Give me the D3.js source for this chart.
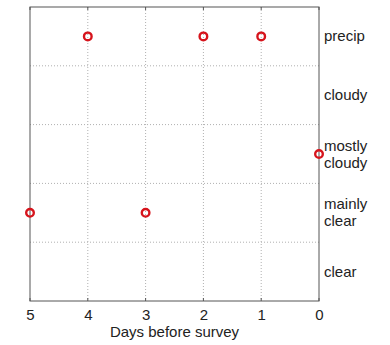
<!DOCTYPE html>
<html>
<head>
<meta charset="utf-8">
<script src="https://cdn.jsdelivr.net/npm/d3@7"></script>
<style>
  body { margin: 0; background: #fff; }
  svg { display: block; font-family: "Liberation Sans", Arial, sans-serif; }
  .grid line { stroke: #b0b0b0; stroke-dasharray: 1 2; stroke-width: 1; }
  .x-axis text, .cat-label { fill: #222; font-size: 15px; }
</style>
</head>
<body>
<svg id="chart"></svg>
<script>
// weather categories, bottom to top
const categories = ['clear', 'mainly clear', 'mostly cloudy', 'cloudy', 'precip']
const catLines = [['clear'], ['mainly', 'clear'], ['mostly', 'cloudy'], ['cloudy'], ['precip']]
const days = [5, 4, 3, 2, 1, 0]
const obsDays = [4, 2, 1, 0, 5, 3]
const obsWeather = ['precip', 'precip', 'precip', 'mostly cloudy', 'mainly clear', 'mainly clear']

const width = 390, height = 345
const MARGIN = { top: 7, right: 71, bottom: 44, left: 30 }
const boundedWidth = width - MARGIN.left - MARGIN.right
const boundedHeight = height - MARGIN.top - MARGIN.bottom

const $svg = d3.select('#chart').attr('width', width).attr('height', height)
const $g = $svg.append('g').attr('transform', `translate(${MARGIN.left}, ${MARGIN.top})`)

const xScale = d3.scaleLinear().domain([5, 0]).range([0, boundedWidth])
const yScale = d3.scaleBand().domain(categories).range([boundedHeight, 0])

// dotted grid
const $grid = $g.append('g').attr('class', 'grid')
$grid.selectAll('.vg')
  .data(days.filter(d => d !== 0 && d !== 5))
  .join('line')
    .attr('x1', d => xScale(d)).attr('x2', d => xScale(d))
    .attr('y1', 0).attr('y2', boundedHeight)
$grid.selectAll('.hg')
  .data(categories.slice(1))
  .join('line')
    .attr('x1', 0).attr('x2', boundedWidth)
    .attr('y1', d => yScale(d) + yScale.bandwidth()).attr('y2', d => yScale(d) + yScale.bandwidth())

// box
$g.append('rect')
  .attr('width', boundedWidth).attr('height', boundedHeight)
  .attr('fill', 'none').attr('stroke', '#555').attr('stroke-width', 1)

// small inner ticks, matlab style
const tickLen = 3
days.forEach(d => {
  $g.append('line').attr('x1', xScale(d)).attr('x2', xScale(d))
    .attr('y1', boundedHeight).attr('y2', boundedHeight - tickLen).attr('stroke', '#555')
  $g.append('line').attr('x1', xScale(d)).attr('x2', xScale(d))
    .attr('y1', 0).attr('y2', tickLen).attr('stroke', '#555')
})

// x axis
const xAxis = $g.append('g')
  .attr('class', 'x-axis')
  .attr('transform', `translate(0, ${boundedHeight})`)
  .call(d3.axisBottom(xScale).tickValues(days).tickFormat(d3.format('d')).tickSize(0).tickPadding(8))
xAxis.select('.domain').remove()

$svg.append('text')
  .attr('x', MARGIN.left + boundedWidth / 2)
  .attr('y', 337)
  .attr('text-anchor', 'middle')
  .attr('fill', '#222')
  .attr('font-size', 15)
  .text('Days before survey')

// right category labels
const $labels = $g.selectAll('.cat-label')
  .data(categories)
  .join('text')
    .attr('class', 'cat-label')
    .attr('x', boundedWidth + 5)
    .attr('y', d => yScale(d) + yScale.bandwidth() / 2)
$labels.each(function (d, i) {
  const lines = catLines[i]
  const lh = 17
  d3.select(this).selectAll('tspan')
    .data(lines)
    .join('tspan')
      .attr('x', boundedWidth + 5)
      .attr('dy', (l, j) => j === 0 ? `${-(lines.length - 1) * lh / 2 + 5}px` : `${lh}px`)
      .text(l => l)
})

// observations
$g.selectAll('.obs')
  .data(obsDays.map((d, i) => ({ day: d, weather: obsWeather[i] })))
  .join('circle')
    .attr('class', 'obs')
    .attr('cx', d => xScale(d.day))
    .attr('cy', d => yScale(d.weather) + yScale.bandwidth() / 2)
    .attr('r', 3.8)
    .attr('fill', 'none')
    .attr('stroke', '#d6141c')
    .attr('stroke-width', 2.4)
</script>
</body>
</html>
